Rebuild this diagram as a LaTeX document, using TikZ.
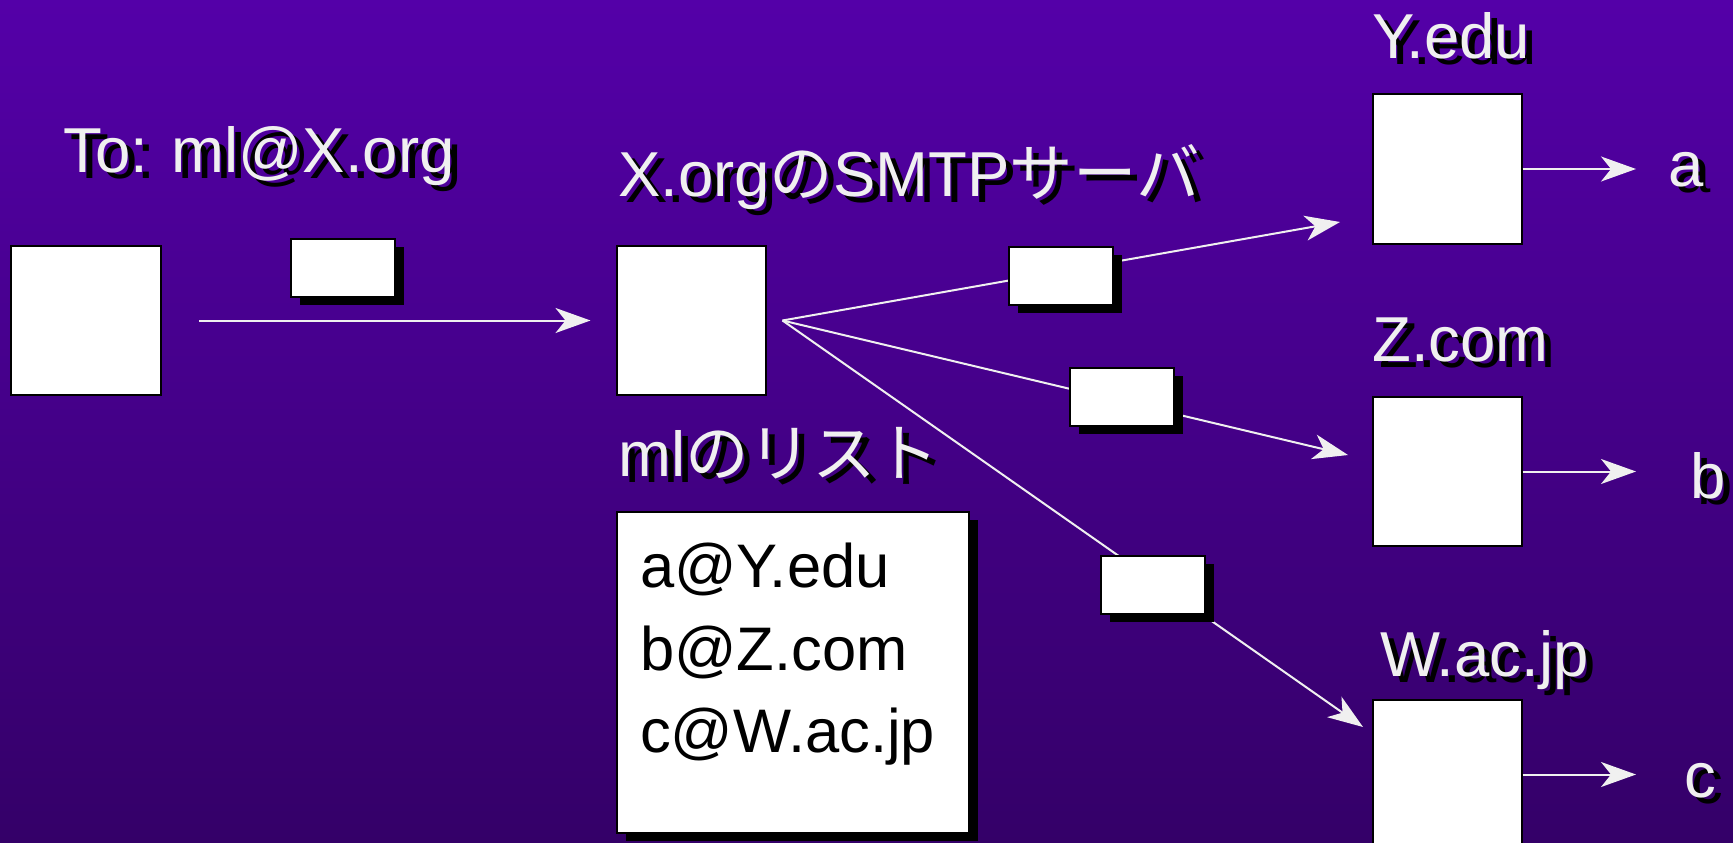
\documentclass[tikz,border=0pt]{standalone}
\usepackage{fontspec}
\setmainfont{Liberation Sans}
\newfontfamily\jp{Noto Sans CJK JP}
\usetikzlibrary{arrows.meta,shadows}
\definecolor{bgtop}{RGB}{84,0,168}
\definecolor{bgbot}{RGB}{52,0,104}
\definecolor{lt}{RGB}{240,240,240}
% light text with a black copy offset below-right
\newcommand\shadowed[1]{\makebox[0pt][l]{\hspace*{7pt}\raisebox{-6pt}{\color{black}#1}}#1}
\begin{document}
\begin{tikzpicture}[x=1pt,y=-1pt,
  box/.style={draw=black,line width=2pt,fill=white,inner sep=0pt,
    minimum width=149pt,minimum height=149pt},
  env/.style={draw=black,line width=2pt,fill=white,inner sep=0pt,
    minimum width=104pt,minimum height=58pt,
    drop shadow={shadow xshift=9pt,shadow yshift=-8pt,fill=black,opacity=1}},
  lbl/.style={text=lt,inner sep=0pt,anchor=base west,font=\fontsize{63.5}{76}\selectfont},
  listline/.style={text=black,inner sep=0pt,anchor=base west,font=\fontsize{61.5}{73}\selectfont},
  arr/.style={draw=lt,line width=2pt,-{Stealth[length=35pt,width=25pt,inset=10pt]}},
]
\useasboundingbox (0,0) rectangle (1733,843);
\clip (0,0) rectangle (1733,843);
\shade[top color=bgtop,bottom color=bgbot] (0,0) rectangle (1733,843);

% hosts
\node[box,minimum width=150pt] (src) at (86,320.5) {};
\node[box] (srv) at (691,320.5) {};
\node[box] (Ybox) at (1447,169) {};
\node[box] (Zbox) at (1447,471.5) {};
\node[box] (Wbox) at (1447,774.5) {};

% labels
\node[lbl] (to) at (63,172) {\shadowed{To: ml@X.org}};
\node[lbl] (srvname) at (618,196) {\shadowed{X.org{\jp の}SMTP{\jp サーバ}}};
\node[lbl] (listname) at (618,476) {\shadowed{ml{\jp のリスト}}};
\node[lbl] (yname) at (1372,59) {\shadowed{Y.edu}};
\node[lbl] (zname) at (1372,361) {\shadowed{Z.com}};
\node[lbl] (wname) at (1380,676) {\shadowed{W.ac.jp}};
\node[lbl] (ra) at (1668,186) {\shadowed{a}};
\node[lbl] (rb) at (1690,498) {\shadowed{b}};
\node[lbl] (rc) at (1684,797) {\shadowed{c}};

% member list
\node[env,minimum width=352pt,minimum height=321pt] (list) at (793,672.5) {};
\node[listline] (la) at (640,587) {a@Y.edu};
\node[listline] (lb) at (640,670) {b@Z.com};
\node[listline] (lc) at (640,752) {c@W.ac.jp};

% delivery paths
\draw[arr,shorten <=37pt,shorten >=25pt] (src.east) -- (srv.west);
\coordinate (fan) at ([xshift=16pt]srv.east);
\coordinate (tY) at (1340,222);
\coordinate (tZ) at (1348,455);
\coordinate (tW) at (1363,727);
\draw[arr] (fan) -- (tY);
\draw[arr] (fan) -- (tZ);
\draw[arr] (fan) -- (tW);
\coordinate (oa) at (1636,169);
\coordinate (ob) at (1636,471.5);
\coordinate (oc) at (1636,774.5);
\draw[arr] (Ybox.east) -- (oa);
\draw[arr] (Zbox.east) -- (ob);
\draw[arr] (Wbox.east) -- (oc);

% messages in transit
\node[env] (e1) at (343,268) {};
\node[env] (e2) at (1061,275.5) {};
\node[env] (e3) at (1122,396.5) {};
\node[env] (e4) at (1152.5,585) {};
\end{tikzpicture}
\end{document}
